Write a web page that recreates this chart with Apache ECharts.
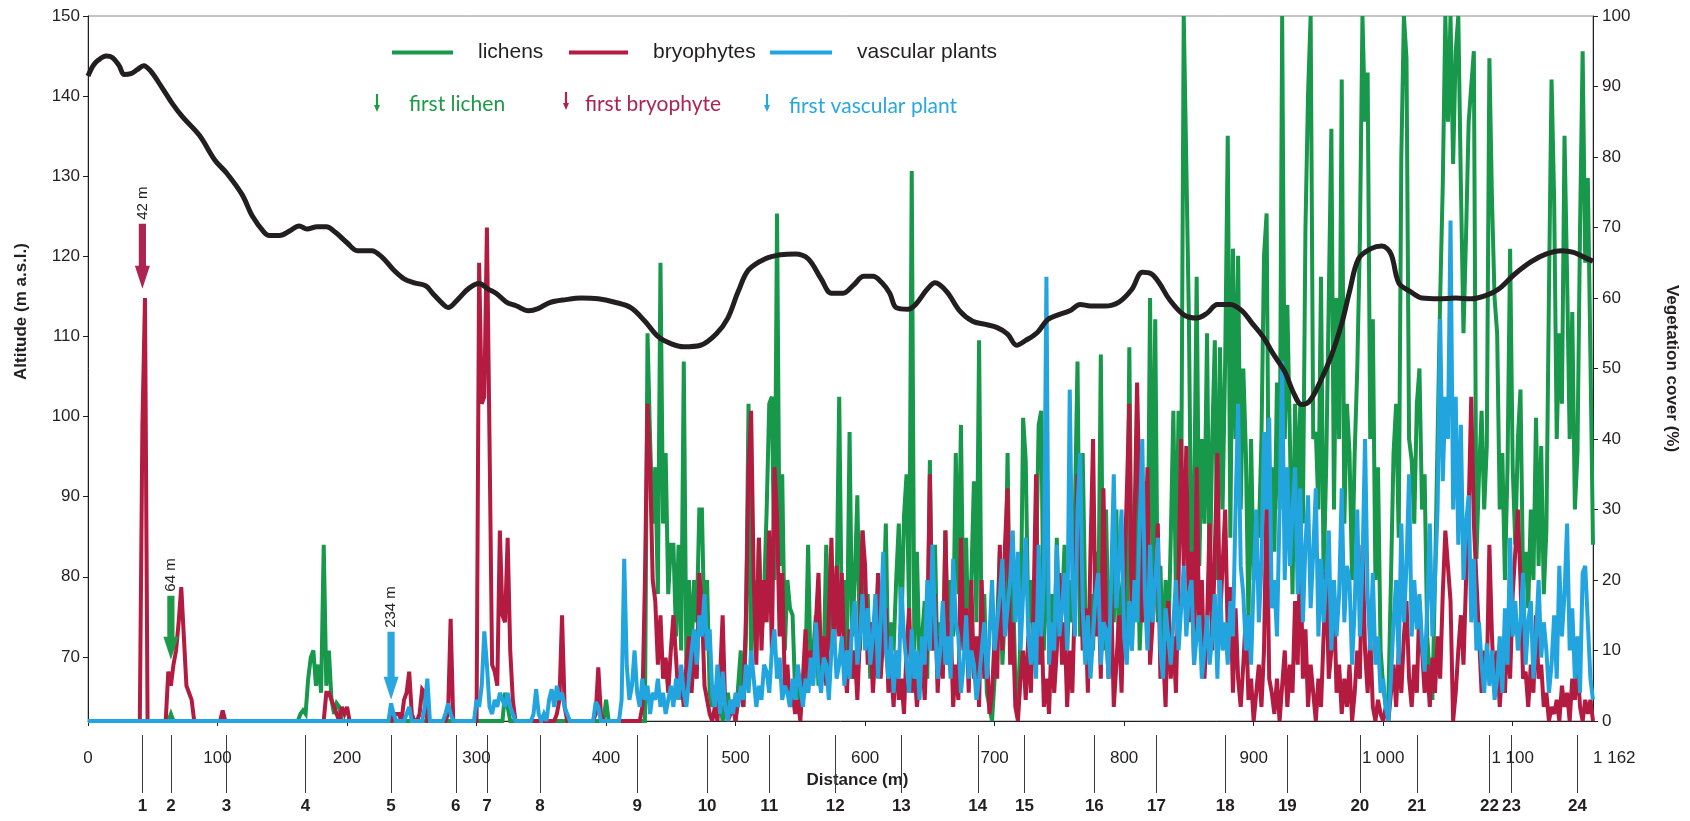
<!DOCTYPE html>
<html>
<head>
<meta charset="utf-8">
<script src="https://cdn.jsdelivr.net/npm/echarts@6/dist/echarts.min.js"></script>
<style>
  html, body { margin: 0; padding: 0; background: #ffffff; }
  #chart { width: 1690px; height: 821px; }
</style>
</head>
<body>
<div id="chart"></div>
<script>
// Transect profile: altitude along the transect and vegetation cover (%) of
// lichens, bryophytes and vascular plants, sampled every 2 m from 0 to 1162 m.
const sampleStep = 2;

const lichens = [
  0,0,0,0,0,0,0,0,0,0,          // 0 m
  0,0,0,0,0,0,0,0,0,0,          // 20 m
  0,0,0,0,0,0,0,0,0,0,          // 40 m
  0,0,1,0,0,0,0,0,0,0,          // 60 m
  0,0,0,0,0,0,0,0,0,0,          // 80 m
  0,0,0,0,0,0,0,0,0,0,          // 100 m
  0,0,0,0,0,0,0,0,0,0,          // 120 m
  0,0,0,0,0,0,0,0,0,0,          // 140 m
  0,0,1,1.5,1,6,9,10,5,8,       // 160 m
  4,25,5,10,3,1,2.5,2,0,0,      // 180 m
  0,0,0,0,0,0,0,0,0,0,          // 200 m
  0,0,0,0,0,0,0,0,0,0,          // 220 m
  0,0,0,0,0,0,0,0,0,0,          // 240 m
  0,0,0,0,0,0,0,0,0,0,          // 260 m
  0,0,0,0,0,0,0,0,0,0,          // 280 m
  0,0,0,0,0,0,0,0,0,0,          // 300 m
  0,4,2,0,0,0,0,0,0,0,          // 320 m
  0,0,0,0,0,0,0,0,0,0,          // 340 m
  0,0,0,0,0,0,0,0,0,0,          // 360 m
  0,0,0,0,0,0,0,0,0,0,          // 380 m
  3,0,0,0,0,0,0,0,0,0,          // 400 m
  0,0,0,0,0,0,55,40,28,36,      // 420 m
  18,65,28,38,18,25,25,12,25,10,
  51,8,20,10,20,14,30,30,12,20,
  4,2,5,1,3,0,2,4,1,3,
  0,5,10,2,12,45,8,20,10,26,    // 500 m
  12,18,30,45,46,20,72,22,35,10,
  20,16,15,4,5,2,4,8,25,6,
  10,15,5,12,8,25,10,22,12,18,
  46,14,20,10,41,12,20,32,10,27,
  12,18,6,14,10,20,8,15,28,6,   // 600 m
  14,10,20,28,12,29,35,15,78,10,
  24,8,12,17,6,37,10,25,6,14,
  8,27,10,20,12,38,18,42,12,26,
  8,20,34,14,54,10,18,4,2,0,
  6,14,24,8,16,38,10,20,6,2,    // 700 m
  12,43,37,14,20,8,22,42,44,10,
  25,12,18,8,26,12,16,25,10,20,
  14,30,51,12,38,16,8,18,10,24,
  14,52,10,30,12,20,14,30,10,18,
  23,12,53,14,20,34,10,20,34,16, // 800 m
  60,20,57,14,22,8,20,10,26,44,
  18,44,30,100,79,57,20,30,63,22,
  40,28,55,18,40,54,20,53,30,51,
  83,26,67,40,66,30,50,38,14,40,
  20,28,26,40,66,72,20,36,24,48, // 900 m
  30,100,40,59,40,18,45,30,45,28,
  70,89,100,40,41,30,63,20,36,60,
  84,30,60,40,91,28,45,38,20,38,
  50,68,100,85,92,40,57,20,36,10,
  5,2,3,20,38,45,26,80,100,94,   // 1000 m
  40,37,28,45,50,30,35,12,6,3,
  20,40,60,76,100,85,100,79,95,100,
  76,55,69,85,90,95,23,35,44,30,
  39,94,74,60,55,30,38,20,36,67,
  36,25,40,47,20,24,16,30,20,43, // 1100 m
  22,39,18,27,61,91,74,40,55,45,
  83,63,40,58,30,38,70,95,65,77,
  52,25                          // 1160 m
];

const bryophytes = [
  0,0,0,0,0,0,0,0,0,0,          // 0 m
  0,0,0,0,0,0,0,0,0,0,          // 20 m
  0,42,60,0,0,0,0,0,0,0,        // 40 m
  0,7,5,8,10,14,19,12,5,4,      // 60 m
  3,0,0,0,0,0,0,0,0,0,          // 80 m
  0,0,1.5,0,0,0,0,0,0,0,        // 100 m
  0,0,0,0,0,0,0,0,0,0,          // 120 m
  0,0,0,0,0,0,0,0,0,0,          // 140 m
  0,0,0,0,0,0,0,0,0,0,          // 160 m
  0,0,4,4,3,2,1,0,2,1,          // 180 m
  2,0,0,0,0,0,0,0,0,0,          // 200 m
  0,0,0,0,0,0,0,0,1,1,          // 220 m
  1,0,3,4,7,1,0,0,1,4.5,        // 240 m
  4,0,0,0,0,0,0,0,0,1,          // 260 m
  14.5,0,0,0,0,0,0,0,0,0,       // 280 m
  0,65,45,46,70,40,8,7,5,27,    // 300 m
  15,14,26,10,3,0,0,0,0,0,      // 320 m
  0,0,0,0,0,0,0,0,0,0,          // 340 m
  0,1,3,15,2,0,0,0,0,0,         // 360 m
  0,0,0,0,0,0,1,7.6,1,0,        // 380 m
  0,0,0,0,0,0,0,0,0,0,          // 400 m
  0,0,0,0,2,20,45,36,20,17,     // 420 m
  8,15,6,9,4,10,15,9,3,6,
  2,8,12,4,10,6,21,16,5,3,
  1,0,2,0,6,15,2,0,1,2,
  0,3,5,2,15,36,44,20,8,26,     // 500 m
  10,20,14,27,10,36,29,12,21,5,
  8,2,4,1,3,0,6,13,4,10,
  6,14,21,8,12,5,15,26,10,22,
  12,21,8,4,13,6,10,3,12,27,
  22,8,14,4,10,21,6,12,16,4,    // 600 m
  8,2,10,3,6,1,10,16,4,8,
  2,6,10,3,12,35,10,18,4,12,
  6,27,8,14,2,8,3,26,10,16,
  4,20,6,12,2,20,6,10,1,4,
  12,6,25,10,25,33,8,14,2,0,    // 700 m
  6,10,3,12,4,16,35,8,16,2,
  6,1,12,4,10,21,8,14,2,10,
  4,18,35,26,10,16,4,24,40,12,
  20,6,33,14,6,18,2,8,15,4,
  20,32,45,10,28,48,30,14,20,36, // 800 m
  8,14,20,28,6,10,2,17,6,12,
  4,20,40,22,39,14,24,8,36,12,
  20,6,14,28,10,24,38,14,22,30,
  12,19,4,16,6,2,8,15,3,6,
  0,4,8,2,10,33,6,4,1,6,        // 900 m
  0,5,10,2,8,4,17,8,25,6,
  13,2,8,4,0,6,2,12,21,6,
  10,18,4,8,1,6,2,8,0,4,
  10,6,25,10,4,12,2,0,3,1,
  0,2,0,4,8,2,10,4,12,17,       // 1000 m
  6,2,8,4,17,10,4,8,2,9,
  4,12,6,18,27,22,17,0,4,10,
  15,8,20,30,46,28,20,12,4,10,
  6,25,12,4,10,2,8,4,13,6,
  18,24,30,20,6,7,2,8,4,15,     // 1100 m
  6,8,2,4,0,2,1,3,0,5,
  2,4,0,6,3,8,2,0,3,1,
  3,0                            // 1160 m
];

const vascularPlants = [
  0,0,0,0,0,0,0,0,0,0,          // 0 m
  0,0,0,0,0,0,0,0,0,0,          // 20 m
  0,0,0,0,0,0,0,0,0,0,          // 40 m
  0,0,0,0,0,0,0,0,0,0,          // 60 m
  0,0,0,0,0,0,0,0,0,0,          // 80 m
  0,0,0,0,0,0,0,0,0,0,          // 100 m
  0,0,0,0,0,0,0,0,0,0,          // 120 m
  0,0,0,0,0,0,0,0,0,0,          // 140 m
  0,0,0,0,0,0,0,0,0,0,          // 160 m
  0,0,0,0,0,0,0,0,0,0,          // 180 m
  0,0,0,0,0,0,0,0,0,0,          // 200 m
  0,0,0,0,0,0,0,2.5,1,0,        // 220 m
  0,0,0,1,2,0,0,0,0,0,          // 240 m
  2,6,0,0,0,0,0,0,1,2.5,        // 260 m
  1,0,0,0,0,0,0,0,0,0,          // 280 m
  3,2,5,12.7,8,2,1,3,2,4,       // 300 m
  3,2,4,2,1,0,0,0,0,0,          // 320 m
  0,0,1,4.5,1,0,1,0,3,4.5,      // 340 m
  2,5,3,4,2,1,0,0,0,0,          // 360 m
  0,0,0,0,0,0,2.7,2,0,0,        // 380 m
  0,0,0,0,0,0,3,23,7.8,3,       // 400 m
  5,10,4,2,6,3,5,1,4,3,         // 420 m
  6,2,4,1,3,5,2,6,3,8,
  4,2,6,10,13,8,15,12,18,10,
  13,4,2,8,1,7,2,0,3,1,
  4,2,5,3,8,4,10,6,2,5,         // 500 m
  3,8,7,4,10,13,6,9,3,5,
  4,2,6,3,8,5,2,6,4,9,
  5,14,7,4,9,8,3,10,13,6,
  8,12,5,10,6,14,17,8,12,18,
  10,16,8,12,18,6,14,24,10,6,   // 600 m
  12,4,10,6,19,12,8,4,13,6,
  10,3,12,8,20,10,25,14,6,10,
  17,8,12,6,23,14,12,4,8,15,
  6,10,8,3,6,10,14,6,12,20,
  10,14,18,23,12,16,20,27,14,24, // 700 m
  10,18,26,12,8,14,6,25,12,20,
  63,8,14,10,25,12,16,21,10,47,
  20,12,30,38,16,8,15,6,12,18,
  21,8,14,13,6,20,35,16,22,30,
  12,8,17,10,20,14,28,40,18,10, // 800 m
  25,14,20,26,10,6,16,12,8,14,
  20,10,16,22,12,18,20,8,12,15,
  6,10,15,8,12,18,6,20,10,14,
  8,17,12,30,45,22,18,10,15,8,
  20,30,14,22,41,30,43,16,20,12, // 900 m
  30,51,20,36,22,30,36,18,33,14,
  25,32,16,24,33,12,23,14,20,27,
  10,20,12,18,33,14,22,20,8,16,
  30,12,22,40,18,10,21,8,12,4,
  6,2,0,6,14,20,8,28,14,22,     // 1000 m
  35,12,20,13,18,11,7,16,28,12,
  20,30,57,34,46,40,71,30,46,25,
  42,20,28,32,14,23,10,14,8,4,
  11,5,10,3,6,12,4,16,8,26,
  12,17,10,14,21,8,14,17,6,12,  // 1100 m
  20,9,14,10,4,8,15,6,22,12,
  18,28,10,16,6,12,4,21,22,14,
  6,3                            // 1160 m
];

// Terrain profile (distance in m, altitude in m a.s.l.)
const altitudeDistance = [
  0, 4, 8, 14, 19, 24, 28, 33, 38, 43, 48, 57, 65, 73, 86, 98, 107, 119, 127, 136,
  140, 148, 156, 163, 169, 177, 184, 191, 200, 208, 219, 227, 236, 244, 252, 261, 266, 275, 278, 286,
  294, 302, 309, 315, 323, 331, 340, 348, 356, 369, 381, 394, 406, 419, 430, 440, 450, 460, 473, 485,
  494, 502, 510, 523, 535, 546, 556, 566, 574, 583, 591, 599, 606, 613, 619, 624, 633, 639, 648, 654,
  663, 673, 683, 693, 702, 710, 717, 724, 733, 741, 749, 758, 766, 774, 785, 796, 806, 814, 821, 827,
  835, 846, 856, 864, 872, 882, 891, 899, 907, 916, 924, 931, 937, 943, 951, 960, 968, 974, 981, 991,
  999, 1006, 1012, 1021, 1030, 1043, 1056, 1068, 1079, 1089, 1101, 1114, 1126, 1138, 1147, 1155, 1162
];
const altitude = [
  142.5, 143.8, 144.5, 145.0, 144.8, 143.8, 142.7, 142.8, 143.3, 143.8, 143.2, 141.1, 139.1, 137.4, 135.1, 132.0, 130.4, 127.7, 125.0, 123.0,
  122.6, 122.6, 123.2, 123.8, 123.4, 123.7, 123.7, 123.0, 121.7, 120.7, 120.7, 119.9, 118.3, 117.2, 116.7, 116.3, 115.4, 113.9, 113.6, 114.7,
  116.0, 116.6, 115.9, 115.4, 114.3, 113.8, 113.2, 113.5, 114.2, 114.6, 114.8, 114.7, 114.3, 113.6, 111.9, 110.0, 109.1, 108.7, 108.9, 110.3,
  112.3, 115.6, 118.3, 119.7, 120.2, 120.3, 119.7, 117.2, 115.4, 115.4, 116.4, 117.5, 117.5, 116.7, 115.4, 113.6, 113.4, 114.0, 115.9, 116.7,
  115.6, 113.2, 111.9, 111.5, 111.1, 110.3, 108.9, 109.5, 110.5, 112.1, 112.7, 113.2, 114.0, 113.8, 113.8, 114.3, 115.9, 118.0, 117.8, 116.7,
  114.6, 112.7, 112.3, 112.9, 114.0, 114.0, 113.2, 111.6, 110.0, 107.6, 105.6, 102.9, 101.5, 101.9, 104.2, 107.6, 111.6, 115.6, 119.7, 121.0,
  121.3, 120.3, 116.7, 115.6, 114.8, 114.7, 114.8, 114.7, 115.1, 115.9, 117.7, 119.3, 120.3, 120.7, 120.5, 119.9, 119.4
];

// Sampling sites along the transect (distance in m), numbered 1..24
const siteDistance = [42, 64, 107, 168, 234, 284, 308, 349, 424, 478, 526, 577, 628, 687, 723, 777, 825, 878, 926, 982, 1026, 1082, 1099, 1150];

// Distance of the first lichen, bryophyte and vascular plant
const firstFindGroup = ['bryophytes', 'lichens', 'vascular plants'];
const firstFindDistance = [42, 64, 234];

// Axis ticks
const distanceTicks = [0, 100, 200, 300, 400, 500, 600, 700, 800, 900, 1000, 1100];
const distanceLabels = [0, 100, 200, 300, 400, 500, 600, 700, 800, 900, 1000, 1100, 1162];
const altitudeTicks = [70, 80, 90, 100, 110, 120, 130, 140, 150];

const FONT = '"Liberation Sans", Arial, Helvetica, sans-serif';
const KEY_FONT = 'Lato, "Open Sans", sans-serif';
const INK = '#231f20';
const COLORS = {
  'lichens': '#17984a',
  'bryophytes': '#b31b40',
  'vascular plants': '#22a5df'
};
const ARROW_COLORS = {
  'lichens': '#1d9a48',
  'bryophytes': '#ad2452',
  'vascular plants': '#2aa7df'
};
// Vertical placement of the first-find arrows (cover % at the tip) and their lengths in px
const arrowLayout = {
  'bryophytes': { tip: 61.3, length: 65 },
  'lichens': { tip: 8.7, length: 64 },
  'vascular plants': { tip: 3.0, length: 68 }
};

// plot rectangle shared by the cover grid and the altitude grid
const PLOT = { left: 88, right: 97, top: 16, bottom: 100 };

function toPairs(values) {
  return values.map((v, i) => [i * sampleStep, v]);
}

function fmtDistance(v) {
  if (v >= 1000) {
    return Math.floor(v / 1000) + ' ' + String(v % 1000).padStart(3, '0');
  }
  return String(v);
}

function coverSeries(name, values, z) {
  return {
    name: name,
    type: 'line',
    xAxisIndex: 0,
    yAxisIndex: 1,
    data: toPairs(values),
    showSymbol: false,
    symbol: 'none',
    z: z,
    lineStyle: { color: COLORS[name], width: 4, join: 'miter', miterLimit: 3 },
    itemStyle: { color: COLORS[name] },
    animation: false,
    silent: true
  };
}

function drawFirstFind(params, api) {
  const group = firstFindGroup[params.dataIndex];
  const spec = arrowLayout[group];
  const dist = api.value(0);
  const tip = api.coord([dist, spec.tip]);
  const x = tip[0];
  const y = tip[1];
  const top = y - spec.length;
  const headY = y - 23;
  return {
    type: 'group',
    children: [
      {
        type: 'polygon',
        shape: {
          points: [
            [x - 3.6, top], [x + 3.6, top], [x + 3.6, headY], [x + 7.5, headY],
            [x, y], [x - 7.5, headY], [x - 3.6, headY]
          ]
        },
        style: { fill: ARROW_COLORS[group] }
      },
      {
        type: 'text',
        x: x,
        y: top - 4,
        rotation: Math.PI / 2,
        style: {
          text: dist + ' m',
          fill: INK,
          font: '15px ' + FONT,
          align: 'left',
          verticalAlign: 'middle'
        }
      }
    ]
  };
}

// Small arrows + captions explaining the first-find markers
function keyArrow(x, yTop, color) {
  const len = 18, headLen = 7;
  return {
    type: 'polygon',
    shape: {
      points: [
        [x - 1.1, yTop], [x + 1.1, yTop], [x + 1.1, yTop + len - headLen], [x + 3, yTop + len - headLen],
        [x, yTop + len], [x - 3, yTop + len - headLen], [x - 1.1, yTop + len - headLen]
      ]
    },
    style: { fill: color },
    silent: true
  };
}
function keyText(x, y, text, color) {
  return {
    type: 'text',
    x: x, y: y,
    style: { text: text, fill: color, font: '21px ' + KEY_FONT, align: 'left', verticalAlign: 'middle' },
    silent: true
  };
}

function legendFor(name, left, lineWidth) {
  return {
    data: [name],
    left: left,
    top: 37,
    icon: 'rect',
    itemWidth: lineWidth,
    itemHeight: 4,
    selectedMode: false,
    textStyle: { fontSize: 21, fontFamily: FONT, color: INK, padding: [0, 0, 0, 20] }
  };
}

const chart = echarts.init(document.getElementById('chart'), null, { renderer: 'canvas' });

chart.setOption({
  animation: false,
  backgroundColor: '#ffffff',
  textStyle: { fontFamily: FONT, color: INK },
  grid: [
    Object.assign({ show: true, borderColor: '#8a8a8a', borderWidth: 1, backgroundColor: 'transparent' }, PLOT),
    Object.assign({ show: false }, PLOT)
  ],
  legend: [
    legendFor('lichens', 387, 61),
    legendFor('bryophytes', 564, 59),
    legendFor('vascular plants', 765, 62)
  ],
  graphic: [
    keyArrow(377, 94, ARROW_COLORS['lichens']),
    keyText(409, 104, 'first lichen', ARROW_COLORS['lichens']),
    keyArrow(566, 92, ARROW_COLORS['bryophytes']),
    keyText(585, 104, 'first bryophyte', ARROW_COLORS['bryophytes']),
    keyArrow(767, 94, ARROW_COLORS['vascular plants']),
    keyText(789, 106, 'first vascular plant', ARROW_COLORS['vascular plants'])
  ],
  xAxis: [
    {
      gridIndex: 0,
      type: 'value',
      min: 0,
      max: 1162,
      position: 'bottom',
      name: 'Distance (m)',
      nameLocation: 'middle',
      nameGap: 48,
      nameTextStyle: { fontSize: 17, fontWeight: 'bold', color: INK, fontFamily: FONT, padding: [0, 0, 0, 34] },
      axisLine: { show: true, onZero: false, lineStyle: { color: INK, width: 1 } },
      axisTick: { show: true, customValues: distanceTicks, length: 5, lineStyle: { color: INK } },
      axisLabel: {
        customValues: distanceLabels,
        formatter: fmtDistance,
        margin: 29,
        fontSize: 17,
        color: INK,
        fontFamily: FONT,
        alignMaxLabel: 'left'
      },
      splitLine: { show: false }
    },
    {
      // site markers below the distance axis
      gridIndex: 0,
      type: 'value',
      min: 0,
      max: 1162,
      position: 'bottom',
      offset: 14,
      axisLine: { show: false, onZero: false },
      axisTick: { show: true, customValues: siteDistance, length: 58, lineStyle: { color: '#3b3b3b', width: 1 } },
      axisLabel: {
        customValues: siteDistance,
        formatter: v => String(siteDistance.indexOf(v) + 1),
        margin: 63,
        fontSize: 17,
        fontWeight: 'bold',
        color: INK,
        fontFamily: FONT
      },
      splitLine: { show: false }
    },
    {
      // distance scale of the altitude grid (not drawn)
      gridIndex: 1,
      type: 'value',
      min: 0,
      max: 1162,
      show: false
    }
  ],
  yAxis: [
    {
      gridIndex: 1,
      type: 'value',
      min: 62,
      max: 150,
      position: 'left',
      name: 'Altitude (m a.s.l.)',
      nameLocation: 'middle',
      nameRotate: 90,
      nameGap: 58,
      nameTextStyle: { fontSize: 17, fontWeight: 'bold', color: INK, fontFamily: FONT, padding: [0, 0, 0, 114] },
      axisLine: { show: true, onZero: false, lineStyle: { color: INK, width: 1 } },
      axisTick: { show: true, customValues: altitudeTicks, length: 5, lineStyle: { color: INK } },
      axisLabel: { customValues: altitudeTicks, margin: 8, fontSize: 17, color: INK, fontFamily: FONT },
      minorTick: { show: false },
      splitLine: { show: false }
    },
    {
      gridIndex: 0,
      type: 'value',
      min: 0,
      max: 100,
      interval: 10,
      position: 'right',
      name: 'Vegetation cover (%)',
      nameLocation: 'middle',
      nameRotate: -90,
      nameGap: 70,
      nameTextStyle: { fontSize: 17, fontWeight: 'bold', color: INK, fontFamily: FONT },
      axisLine: { show: true, onZero: false, lineStyle: { color: INK, width: 1 } },
      axisTick: { show: true, length: 5, lineStyle: { color: INK } },
      axisLabel: { margin: 9, fontSize: 17, color: INK, fontFamily: FONT },
      minorTick: { show: false },
      splitLine: { show: false }
    }
  ],
  series: [
    coverSeries('lichens', lichens, 2),
    coverSeries('bryophytes', bryophytes, 3),
    coverSeries('vascular plants', vascularPlants, 4),
    {
      name: 'altitude',
      type: 'line',
      xAxisIndex: 2,
      yAxisIndex: 0,
      data: altitudeDistance.map((d, i) => [d, altitude[i]]),
      smooth: 0.35,
      showSymbol: false,
      symbol: 'none',
      z: 5,
      lineStyle: { color: INK, width: 5 },
      silent: true
    },
    {
      name: 'first finds',
      type: 'custom',
      xAxisIndex: 0,
      yAxisIndex: 1,
      data: firstFindDistance.map(d => [d, 0]),
      renderItem: drawFirstFind,
      clip: false,
      z: 6,
      silent: true
    }
  ]
});
</script>
</body>
</html>
